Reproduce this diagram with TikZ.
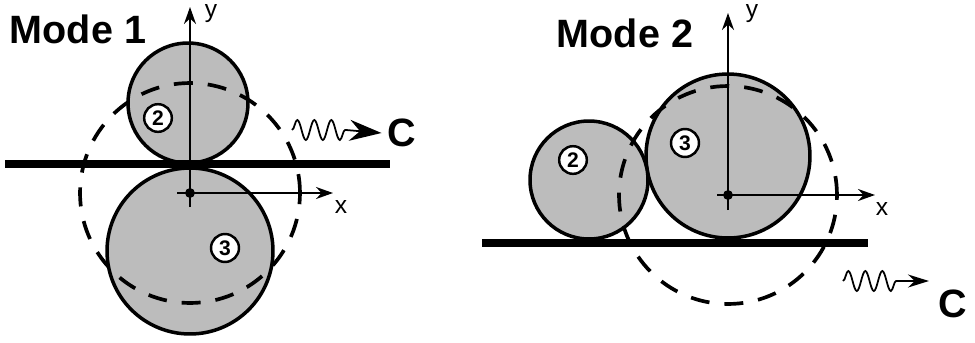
\documentclass[tikz,border=0pt]{standalone}
\usepackage{fontspec}
\setmainfont{Liberation Sans}
\usetikzlibrary{arrows.meta,decorations.pathmorphing,calc}
\definecolor{discgray}{RGB}{188,188,188}

\begin{document}
\begin{tikzpicture}[x=0.02cm, y=-0.02cm,
  disc/.style={draw, line width=2pt, fill=discgray},
  orbit/.style={line width=2.1pt, dash pattern=on 0.38cm off 0.3cm},
  ground/.style={line width=4.6pt},
  axis/.style={-{Stealth[length=0.34cm,width=0.24cm]}, line width=1.2pt},
  tag/.style={circle, draw, line width=1.4pt, fill=white, inner sep=1.8pt,
              font=\bfseries\fontsize{12}{13}\selectfont},
  title/.style={font=\bfseries\fontsize{22.5}{26}\selectfont},
  axlabel/.style={font=\fontsize{14}{16}\selectfont},
  wave/.style={decorate, decoration={snake, segment length=0.34cm, amplitude=0.2cm}, line width=1pt}]

\useasboundingbox (0,0) rectangle (975,342);

% Mode 1
\coordinate (O1) at (190,193);
\coordinate (c1b) at (190,251);
\coordinate (c1a) at (188,103);
\draw[disc] (c1b) circle [radius=1.66cm];
\draw[disc] (c1a) circle [radius=1.2cm];
\draw[ground] (5,164) -- (390,164);
\draw[orbit] (O1) circle [radius=2.2cm];

\coordinate (y1s) at (190,207);
\coordinate (y1e) at (190,7);
\coordinate (x1s) at (177,193);
\coordinate (x1e) at (333,193);
\draw[axis] (y1s) -- (y1e);
\draw[axis] (x1s) -- (x1e);
\fill (O1) circle [radius=2.8pt];

\node[title] (mode1) at (78,29) {Mode 1};
\node[axlabel] (ylab1) at (211,14) {y};
\node[axlabel] (xlab1) at (341,207) {x};
\node[tag] (tag1a) at (158,118) {2};
\node[tag] (tag1b) at (225,248) {3};

\coordinate (w1s) at (292,130);
\coordinate (w1e) at (346,130);
\node[title] (C1) at (402,133) {C};
\draw[wave] (w1s) -- (w1e);
\draw[-{Stealth[length=0.64cm,width=0.42cm]}, line width=1pt] (w1e) -- (C1.west);

% Mode 2
\coordinate (O2) at (728,195);
\coordinate (c2b) at (728,156);
\coordinate (c2a) at (589,180);
\draw[disc] (c2b) circle [radius=1.64cm];
\draw[disc] (c2a) circle [radius=1.18cm];
\draw[ground] (482,243) -- (868,243);
\draw[orbit] (O2) circle [radius=2.18cm];

\coordinate (y2s) at (728,210);
\coordinate (y2e) at (728,13);
\coordinate (x2s) at (717,195);
\coordinate (x2e) at (875,195);
\draw[axis] (y2s) -- (y2e);
\draw[axis] (x2s) -- (x2e);
\fill (O2) circle [radius=2.8pt];

\node[title] (mode2) at (625,33) {Mode 2};
\node[axlabel] (ylab2) at (752,14) {y};
\node[axlabel] (xlab2) at (882,209) {x};
\node[tag] (tag2a) at (573,160) {2};
\node[tag] (tag2b) at (685,143) {3};

\coordinate (w2s) at (843,281);
\coordinate (w2e) at (898,281);
\coordinate (w2t) at (929,281);
\node[title] (C2) at (953,304) {C};
\draw[wave] (w2s) -- (w2e);
\draw[-{Stealth[length=0.42cm,width=0.26cm]}, line width=1pt] (w2e) -- (w2t);
\end{tikzpicture}
\end{document}
